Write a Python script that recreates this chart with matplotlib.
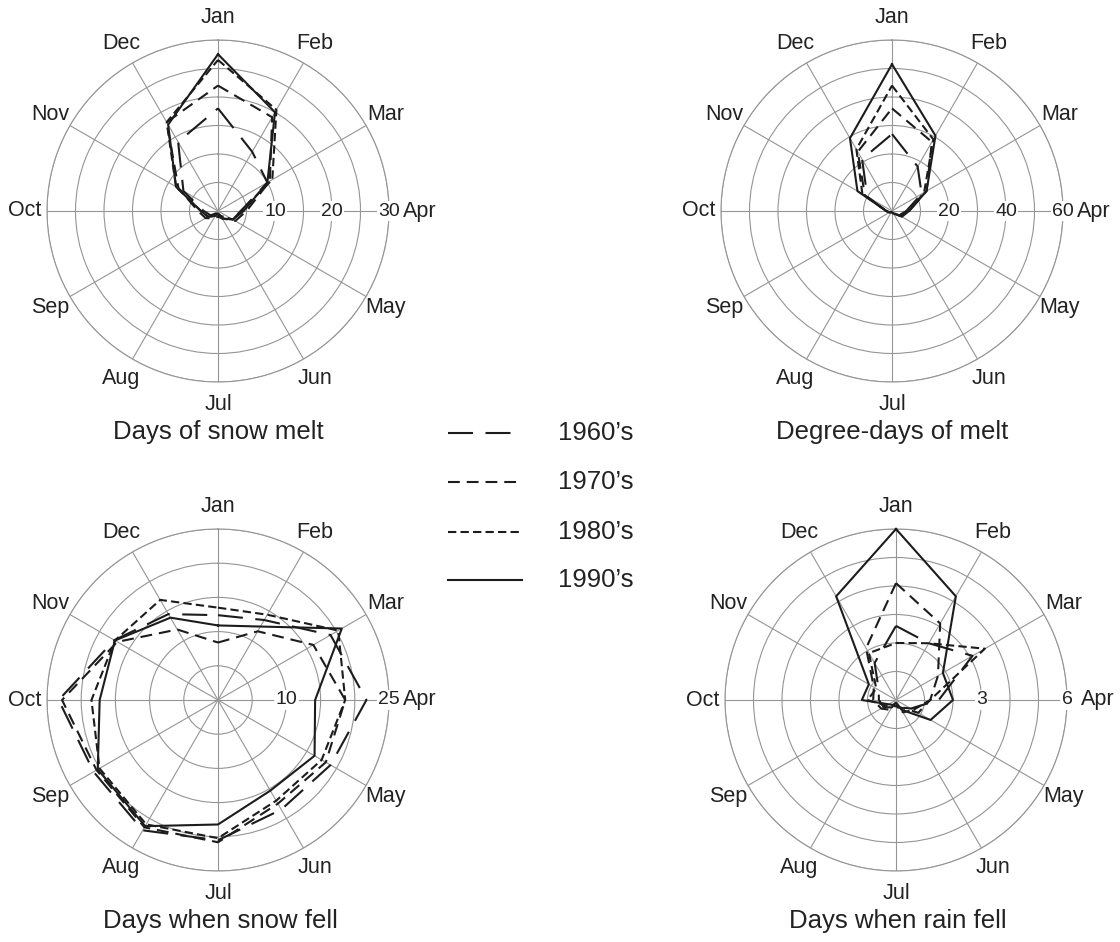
import numpy as np
import matplotlib
matplotlib.use("Agg")
import matplotlib.pyplot as plt
from matplotlib.lines import Line2D

plt.rcParams['font.family'] = ['Liberation Sans', 'DejaVu Sans']
plt.rcParams['lines.scale_dashes'] = False

months = ["Jan", "Feb", "Mar", "Apr", "May", "Jun",
          "Jul", "Aug", "Sep", "Oct", "Nov", "Dec"]
decades = ["1960\u2019s", "1970\u2019s", "1980\u2019s", "1990\u2019s"]

# Days of snow melt
melt_days_1960 = [18, 12, 10, 4, 3, 1.5, 0.5, 0.5, 1.5, 2.5, 7, 14]
melt_days_1970 = [22, 19, 10.5, 5, 3.5, 1.5, 1, 1.5, 2.5, 3.5, 8, 18]
melt_days_1980 = [26.5, 20.5, 11, 4, 3, 1, 0.5, 1, 2, 3, 8.5, 18]
melt_days_1990 = [27.5, 20, 10, 4.5, 3, 1.5, 0.5, 1, 2, 3, 8.5, 17.5]

# Degree-days of melt
degree_days_1960 = [27, 18, 12, 5, 3, 1, 0.5, 0.5, 1, 2, 10, 21]
degree_days_1970 = [36, 28, 14, 6, 3, 1, 0.5, 0.5, 1, 2, 11, 24]
degree_days_1980 = [44, 29, 13, 6, 3.5, 1, 0.5, 0.5, 1, 2, 12, 25]
degree_days_1990 = [51.5, 30.5, 14, 6, 4, 1, 0.5, 0.5, 1, 2, 14, 29.5]

# Days when snow fell
snow_days_1960 = [12.4, 13.5, 19, 21.7, 19, 18.5, 20.5, 22, 21, 23.3, 17.5, 14.5]
snow_days_1970 = [8.4, 11.6, 16.1, 18.6, 18.2, 17.5, 20.8, 21.5, 20.5, 22.8, 17, 11.9]
snow_days_1980 = [13.5, 14.4, 20.3, 18.6, 17.5, 17, 20.2, 21, 20, 18.5, 17.4, 16.9]
snow_days_1990 = [10.9, 12.4, 20.9, 14.2, 16.3, 15.3, 18.2, 21.3, 20.3, 17.3, 17.4, 13.9]

# Days when rain fell
rain_days_1960 = [2.6, 2.3, 3.1, 1.5, 0.6, 0.3, 0.1, 0.3, 0.5, 0.6, 0.7, 1.5]
rain_days_1970 = [4.1, 3.1, 1.7, 1.2, 0.9, 0.3, 0.2, 0.4, 0.6, 0.8, 0.9, 2.1]
rain_days_1980 = [2.0, 2.3, 3.6, 1.2, 0.7, 0.5, 0.2, 0.2, 0.4, 1.0, 0.8, 1.9]
rain_days_1990 = [6.0, 4.2, 1.9, 2.0, 1.4, 0.4, 0.1, 0.2, 0.3, 1.2, 1.1, 4.2]

styles = [(0, (18, 9)), (0, (8.5, 5)), (0, (6, 3)), '-']
LINE_COLOR = '#1c1c1c'
GRID_COLOR = '#959595'
TEXT_COLOR = '#222222'

W, H = 1120, 942
R = 171
fig = plt.figure(figsize=(W / 100, H / 100), dpi=100)
theta = np.arange(12) * 2 * np.pi / 12


def make_panel(cx, cy, rmax, rings, labels, title, title_xy, series):
    ax = fig.add_axes([(cx - R) / W, (H - cy - R) / H, 2 * R / W, 2 * R / H],
                      projection='polar')
    ax.set_theta_zero_location('N')
    ax.set_theta_direction(-1)
    ax.set_ylim(0, rmax)
    ax.set_xticks(theta)
    ax.set_xticklabels([])
    ax.set_yticks(rings)
    ax.set_yticklabels([])
    ax.tick_params(length=0)
    ax.grid(True, color=GRID_COLOR, lw=0.8)
    ax.spines['polar'].set_color(GRID_COLOR)
    ax.spines['polar'].set_linewidth(0.8)
    ax.set_facecolor('none')
    for vals, st in zip(series, styles):
        v = list(vals) + [vals[0]]
        t = np.append(theta, theta[0])
        ax.plot(t, v, color=LINE_COLOR, lw=1.5, linestyle=st, clip_on=False,
                zorder=4)
    for lab in labels:
        ax.text(np.pi / 2, lab, f"{lab:g}", ha='center', va='center',
                fontsize=14, color=TEXT_COLOR, zorder=5,
                bbox=dict(fc='white', ec='none', pad=1.0))
    for i, m in enumerate(months):
        if m == "Apr":
            ax.text(np.pi / 2, rmax * 185 / R, m, ha='left', va='center',
                    fontsize=15.5, color=TEXT_COLOR)
        else:
            ax.text(theta[i], rmax * 1.13, m, ha='center', va='center',
                    fontsize=15.5, color=TEXT_COLOR)
    fig.text(title_xy[0] / W, 1 - title_xy[1] / H, title, ha='center',
             va='center', fontsize=18.5, color=TEXT_COLOR)
    return ax


make_panel(218, 211, 30, [5, 10, 15, 20, 25, 30], [10, 20, 30],
           "Days of snow melt", (218, 432),
           [melt_days_1960, melt_days_1970, melt_days_1980, melt_days_1990])
make_panel(892, 211, 60, [10, 20, 30, 40, 50, 60], [20, 40, 60],
           "Degree-days of melt", (892, 432),
           [degree_days_1960, degree_days_1970, degree_days_1980, degree_days_1990])
make_panel(218, 700, 25, [5, 10, 15, 20, 25], [10, 25],
           "Days when snow fell", (220, 921),
           [snow_days_1960, snow_days_1970, snow_days_1980, snow_days_1990])
make_panel(896, 700, 6, [1, 2, 3, 4, 5, 6], [3, 6],
           "Days when rain fell", (898, 921),
           [rain_days_1960, rain_days_1970, rain_days_1980, rain_days_1990])

# Legend
leg_y = [433, 482, 532, 580]
for lab, st, y in zip(decades, styles, leg_y):
    fig.add_artist(Line2D([448 / W, 522 / W], [1 - y / H, 1 - y / H],
                          color=LINE_COLOR, lw=1.5, linestyle=st,
                          transform=fig.transFigure))
    fig.text(558 / W, 1 - y / H, lab, ha='left', va='center',
             fontsize=18.5, color=TEXT_COLOR)

fig.savefig("out.png", dpi=100, facecolor='white')
